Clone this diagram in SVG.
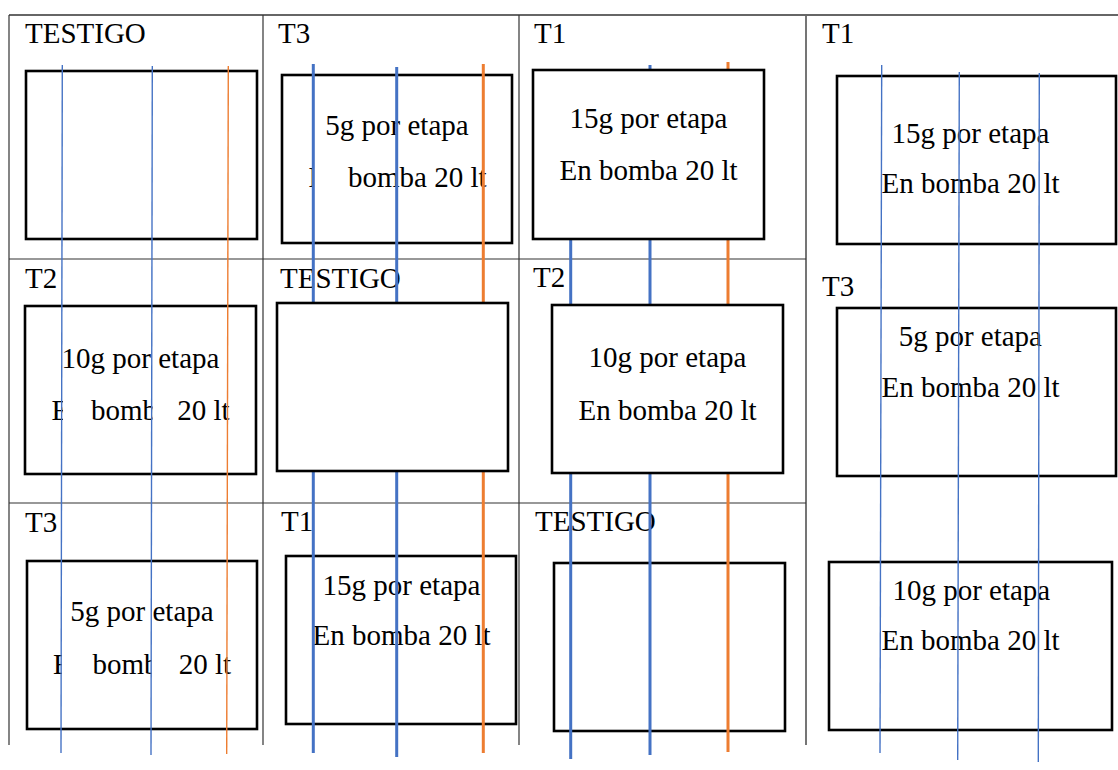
<svg xmlns="http://www.w3.org/2000/svg" width="1118" height="770" viewBox="0 0 1118 770">
<style>
.grid{stroke:#333;stroke-width:1.2;fill:none}
.gridg{stroke:#666;stroke-width:1.8;fill:none}
.box{fill:#fff;stroke:#000;stroke-width:2.6}
.lbl{font-family:"Liberation Serif","Times New Roman",serif;font-size:29px;fill:#000}
.txt{font-family:"Liberation Serif","Times New Roman",serif;font-size:29px;fill:#000;text-anchor:middle}
.bt{stroke:#4472C4;stroke-width:1.4}
.ot{stroke:#ED7D31;stroke-width:1.4}
.bT{stroke:#4472C4;stroke-width:3}
.oT{stroke:#ED7D31;stroke-width:3}
</style>
<defs>
<clipPath id="c01" clipPathUnits="userSpaceOnUse"><rect x="263" y="150" width="51" height="60"/><rect x="346" y="150" width="173" height="60"/></clipPath>
<clipPath id="c10" clipPathUnits="userSpaceOnUse"><rect x="0" y="390" width="63" height="50"/><rect x="89" y="390" width="63.5" height="50"/><rect x="177.5" y="390" width="85" height="50"/></clipPath>
<clipPath id="c20" clipPathUnits="userSpaceOnUse"><rect x="0" y="645" width="62" height="50"/><rect x="91" y="645" width="60.5" height="50"/><rect x="179" y="645" width="84" height="50"/></clipPath>
</defs>
<g id="table">
<line class="gridg" x1="9" y1="15" x2="1118" y2="15"/>
<line class="grid" x1="9" y1="15" x2="9" y2="745"/>
<line class="grid" x1="263" y1="15" x2="263" y2="745"/>
<line class="grid" x1="519" y1="15" x2="519" y2="745"/>
<line class="gridg" x1="806" y1="15" x2="806" y2="745"/>
<line class="grid" x1="9" y1="259" x2="806" y2="259"/>
<line class="grid" x1="9" y1="503" x2="806" y2="503"/>
</g>
<g id="cell-0-0">
<text class="lbl" x="25" y="43">TESTIGO</text>
<rect class="box" x="26" y="71" width="231" height="168"/>
</g>
<g id="cell-0-1">
<text class="lbl" x="278" y="43">T3</text>
<rect class="box" x="282" y="75" width="230" height="168"/>
<text class="txt" x="397" y="135">5g por etapa</text>
<text class="txt" x="397.5" y="186.7" clip-path="url(#c01)">En bomba 20 lt</text>
</g>
<g id="cell-0-3">
<text class="lbl" x="822" y="43">T1</text>
<rect class="box" x="837" y="76" width="279" height="168"/>
<text class="txt" x="970.5" y="143.3">15g por etapa</text>
<text class="txt" x="970.5" y="193.3">En bomba 20 lt</text>
</g>
<g id="cell-1-0">
<text class="lbl" x="25" y="287.7">T2</text>
<rect class="box" x="25" y="306" width="231" height="168"/>
<text class="txt" x="140.5" y="367.7">10g por etapa</text>
<text class="txt" x="140.5" y="420" clip-path="url(#c10)">En bomba 20 lt</text>
</g>
<g id="cell-1-1-label">
<text class="lbl" x="280" y="287.7">TESTIGO</text>
</g>
<g id="cell-1-3">
<text class="lbl" x="822" y="296">T3</text>
<rect class="box" x="837" y="308" width="279" height="168"/>
<text class="txt" x="970.3" y="346">5g por etapa</text>
<text class="txt" x="970.5" y="396.7">En bomba 20 lt</text>
</g>
<g id="cell-2-0">
<text class="lbl" x="25" y="531.7">T3</text>
<rect class="box" x="27" y="561" width="230" height="168"/>
<text class="txt" x="142" y="621">5g por etapa</text>
<text class="txt" x="142" y="674.3" clip-path="url(#c20)">En bomba 20 lt</text>
</g>
<g id="cell-2-1">
<text class="lbl" x="281" y="530.7">T1</text>
<rect class="box" x="286" y="556" width="230" height="168"/>
<text class="txt" x="401.5" y="595">15g por etapa</text>
<text class="txt" x="401.5" y="645">En bomba 20 lt</text>
</g>
<g id="cell-2-2">
<text class="lbl" x="535" y="530.7">TESTIGO</text>
<rect class="box" x="554" y="563" width="231" height="168"/>
</g>
<g id="cell-2-3">
<rect class="box" x="829" y="562" width="283" height="168"/>
<text class="txt" x="971.3" y="600">10g por etapa</text>
<text class="txt" x="970.5" y="650">En bomba 20 lt</text>
</g>
<g id="connectors">
<line class="bt" x1="62.3" y1="65" x2="61" y2="753"/>
<line class="bt" x1="152.3" y1="66" x2="151" y2="755"/>
<line class="ot" x1="228.3" y1="66" x2="226.7" y2="754"/>
<line class="bT" x1="313.3" y1="64" x2="313.3" y2="753"/>
<line class="bT" x1="396.7" y1="67" x2="396.7" y2="757"/>
<line class="oT" x1="483.3" y1="64" x2="483.3" y2="753"/>
<line class="bT" x1="570.7" y1="72" x2="570.7" y2="759"/>
<line class="bT" x1="650" y1="65" x2="650" y2="755"/>
<line class="oT" x1="728" y1="62" x2="728" y2="752"/>
<line class="bt" x1="881.7" y1="65" x2="880" y2="753"/>
<line class="bt" x1="959.3" y1="72" x2="957.7" y2="760"/>
<line class="bt" x1="1039.3" y1="73" x2="1038.3" y2="762"/>
</g>
<g id="cell-0-2">
<text class="lbl" x="534" y="43">T1</text>
<rect class="box" x="533" y="70" width="231" height="169"/>
<text class="txt" x="648.5" y="128.3">15g por etapa</text>
<text class="txt" x="648.5" y="180">En bomba 20 lt</text>
</g>
<g id="cell-1-1">
<rect class="box" x="277" y="303" width="231" height="168"/>
</g>
<g id="cell-1-2">
<text class="lbl" x="533" y="287.3">T2</text>
<rect class="box" x="552" y="305" width="231" height="168"/>
<text class="txt" x="667.5" y="366.7">10g por etapa</text>
<text class="txt" x="667.5" y="420">En bomba 20 lt</text>
</g>
</svg>
